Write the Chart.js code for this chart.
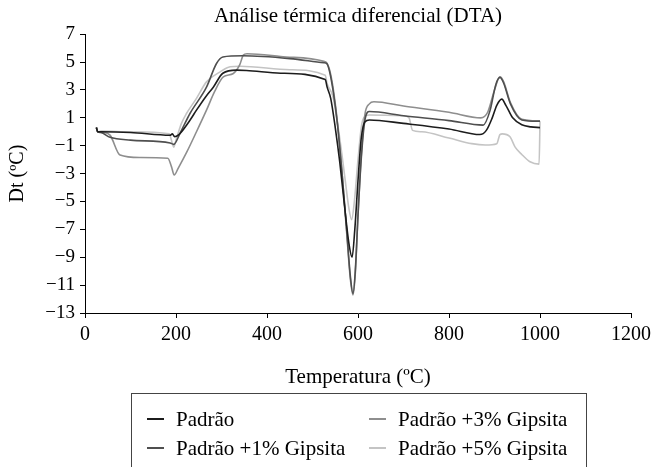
<!DOCTYPE html>
<html><head><meta charset="utf-8">
<script src="https://cdn.jsdelivr.net/npm/chart.js@4/dist/chart.umd.min.js"></script>
<style>
html,body{margin:0;padding:0;background:#fff;}
#wrap{position:relative;width:656px;height:467px;overflow:hidden;background:#fff;}
canvas{position:absolute;left:0;top:0;}
#legend{position:absolute;left:131px;top:393px;width:454px;height:100px;border:1px solid #444;font-family:'Liberation Serif','Times New Roman',serif;font-size:21px;color:#000;}
.item{position:absolute;display:flex;align-items:center;white-space:nowrap;line-height:24px;}
.sw{display:inline-block;width:17px;height:2px;margin-right:12px;}
</style></head>
<body><div id="wrap"><canvas id="c" width="656" height="467"></canvas><div id="legend"></div></div>
<script>
const seriesNames = ['Padrão', 'Padrão +1% Gipsita', 'Padrão +3% Gipsita', 'Padrão +5% Gipsita'];
const seriesColors = ['#1c1c1c', '#4f4f4f', '#8e8e8e', '#c4c4c4'];

const padraoT  = [25, 28, 35, 100, 187, 192, 197, 202, 209, 231, 245, 265, 282, 303, 333, 355, 430, 528, 532, 540, 550, 560, 570, 580, 587, 593, 600, 607, 615, 625, 700, 800, 868, 882, 895, 905, 916, 925, 940, 960, 980, 1000];
const padraoDt = [0.3, 0.0, 0.0, -0.05, -0.25, -0.15, -0.35, -0.3, -0.12, 0.84, 1.55, 2.5, 3.2, 4.2, 4.42, 4.4, 4.2, 3.75, 3.22, 2.4, 0.3, -2.2, -5.2, -8.0, -9.0, -7.0, -3.5, -0.5, 0.7, 0.85, 0.6, 0.2, -0.2, 0.1, 1.0, 1.9, 2.34, 1.9, 1.0, 0.5, 0.35, 0.3];

const gip1T  = [25, 28, 35, 55, 100, 187, 195, 209, 231, 267, 289, 303, 347, 450, 525, 531, 537, 545, 555, 565, 575, 583, 589, 594, 600, 607, 615, 625, 700, 800, 875, 890, 903, 912, 920, 935, 960, 1000];
const gip1Dt = [0.3, 0.0, -0.05, -0.4, -0.6, -0.8, -0.9, -0.1, 1.33, 3.2, 4.9, 5.37, 5.45, 5.25, 4.95, 4.9, 4.4, 3.0, 0.5, -3.0, -7.0, -10.3, -11.6, -10.0, -6.0, -2.0, 0.8, 1.45, 1.15, 0.8, 0.48, 1.5, 3.4, 3.9, 3.5, 2.0, 0.85, 0.75];

const gip3T  = [25, 28, 40, 55, 77, 120, 182, 190, 196, 205, 223, 245, 267, 285, 304, 326, 340, 348, 356, 430, 525, 531, 537, 545, 555, 565, 575, 583, 589, 594, 600, 607, 615, 625, 635, 700, 800, 870, 885, 900, 912, 920, 935, 960, 1000];
const gip3Dt = [0.3, 0.0, -0.05, -0.24, -1.67, -1.85, -1.9, -2.5, -3.1, -2.6, -1.5, 0.0, 1.55, 2.9, 3.94, 4.18, 4.8, 5.5, 5.6, 5.4, 5.05, 4.95, 4.5, 3.2, 0.6, -3.0, -7.2, -10.5, -11.7, -10.2, -6.0, -1.8, 1.2, 2.0, 2.15, 1.85, 1.4, 1.0, 1.4, 3.0, 3.95, 3.6, 2.1, 0.9, 0.78];

const gip5T  = [25, 28, 35, 100, 185, 190, 195, 200, 212, 223, 245, 267, 297, 319, 340, 450, 528, 532, 545, 560, 572, 580, 586, 592, 600, 608, 615, 625, 700, 712, 720, 740, 800, 850, 880, 905, 912, 917, 934, 945, 960, 978, 998, 1000];
const gip5Dt = [0.3, 0.0, 0.05, 0.0, -0.15, -0.6, -1.1, -0.6, 0.6, 1.31, 2.4, 3.58, 4.3, 4.66, 4.7, 4.45, 4.06, 3.47, 2.5, -0.5, -3.5, -5.5, -6.3, -5.0, -2.0, 0.5, 1.1, 1.2, 1.15, 1.0, 0.1, 0.0, -0.45, -0.85, -0.95, -0.85, -0.2, -0.15, -0.36, -1.08, -1.63, -2.15, -2.32, 0.75];

const xTicks = [0, 200, 400, 600, 800, 1000, 1200];
const yTicks = [-13, -11, -9, -7, -5, -3, -1, 1, 3, 5, 7];

const seriesT = [padraoT, gip1T, gip3T, gip5T];
const seriesDt = [padraoDt, gip1Dt, gip3Dt, gip5Dt];

const FONT = "'Liberation Serif', 'Times New Roman', serif";

const datasets = seriesNames.map((name, i) => ({
  label: name,
  data: seriesT[i].map((t, k) => ({x: t, y: seriesDt[i][k]})),
  borderColor: seriesColors[i],
  backgroundColor: seriesColors[i],
  borderWidth: 1.6,
  pointRadius: 0,
  showLine: true,
  fill: false,
  cubicInterpolationMode: 'monotone'
}));

new Chart(document.getElementById('c'), {
  type: 'scatter',
  data: {datasets},
  options: {
    responsive: false,
    animation: false,
    devicePixelRatio: 1,
    layout: {padding: {left: 0, right: 25, top: 0, bottom: 75}},
    plugins: {
      legend: {display: false},
      tooltip: {enabled: false},
      title: {display: true, fullSize: false, text: 'Análise térmica diferencial (DTA)', color: '#000',
        font: {family: FONT, size: 21, weight: 'normal'}, padding: {top: 4, bottom: 5}}
    },
    scales: {
      x: {
        type: 'linear', min: 0, max: 1200,
        afterBuildTicks: s => { s.ticks = xTicks.map(v => ({value: v})); },
        ticks: {color: '#000', font: {family: FONT, size: 20}, padding: 5, maxRotation: 0,
          callback: v => String(v)},
        grid: {drawOnChartArea: false, drawTicks: true, tickLength: 5, color: '#000'},
        border: {color: '#000', width: 1},
        title: {display: true, text: 'Temperatura (ºC)', color: '#000', font: {family: FONT, size: 21}, padding: {top: 0, bottom: 2}},
        afterFit: s => { s.height = 79; }
      },
      y: {
        type: 'linear', min: -13, max: 7,
        afterBuildTicks: s => { s.ticks = yTicks.map(v => ({value: v})); },
        ticks: {color: '#000', font: {family: FONT, size: 19}, padding: 5,
          callback: v => v < 0 ? '\u2212' + Math.abs(v) : String(v)},
        grid: {drawOnChartArea: false, drawTicks: true, tickLength: 5, color: '#000'},
        border: {color: '#000', width: 1},
        title: {display: true, text: 'Dt (ºC)', color: '#000', font: {family: FONT, size: 20}, padding: {top: 6, bottom: 0}},
        afterFit: s => { s.width = 85; }
      }
    }
  }
});

// legend (column-major, two columns)
const legend = document.getElementById('legend');
const pos = [[15, 13], [15, 42], [237, 13], [237, 42]];
seriesNames.forEach((name, i) => {
  const it = document.createElement('div');
  it.className = 'item';
  it.style.left = pos[i][0] + 'px';
  it.style.top = pos[i][1] + 'px';
  const sw = document.createElement('span');
  sw.className = 'sw';
  sw.style.background = seriesColors[i];
  it.appendChild(sw);
  it.appendChild(document.createTextNode(name));
  legend.appendChild(it);
});
</script>
</body></html>
